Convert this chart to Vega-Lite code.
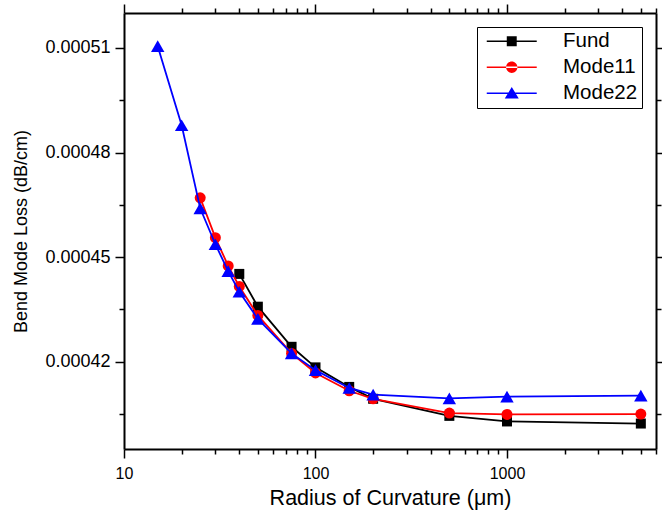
{
  "$schema": "https://vega.github.io/schema/vega-lite/v6.json",
  "width": 532,
  "height": 436,
  "autosize": {"type": "none"},
  "padding": {"left": 124, "top": 13, "right": 6, "bottom": 69},
  "background": "white",
  "config": {
    "view": {"stroke": null},
    "font": "Liberation Sans",
    "axis": {
      "grid": false,
      "domainColor": "black",
      "domainWidth": 2,
      "tickColor": "black",
      "tickWidth": 1.5,
      "labelColor": "black",
      "titleColor": "black",
      "labelFont": "Liberation Sans",
      "titleFont": "Liberation Sans",
      "titleFontWeight": "normal",
      "labelOverlap": false,
      "labelFlush": false
    },
    "legend": {
      "orient": "top-right",
      "offset": 14,
      "strokeColor": "black",
      "strokeWidth": 1,
      "fillColor": "white",
      "padding": 4,
      "symbolSize": 196,
      "symbolStrokeWidth": 0,
      "symbolOffset": 20.5,
      "labelOffset": 41,
      "labelAlign": "left",
      "labelFont": "Arial",
      "labelFontSize": 20.5,
      "labelColor": "black",
      "labelLimit": 200,
      "rowPadding": 5
    }
  },
  "data": {
    "values": [
      {"series": "Fund", "r": 40, "loss": 0.0004452},
      {"series": "Fund", "r": 50, "loss": 0.0004358},
      {"series": "Fund", "r": 75, "loss": 0.0004243},
      {"series": "Fund", "r": 100, "loss": 0.0004184},
      {"series": "Fund", "r": 150, "loss": 0.0004128},
      {"series": "Fund", "r": 200, "loss": 0.0004094},
      {"series": "Fund", "r": 500, "loss": 0.0004045},
      {"series": "Fund", "r": 1000, "loss": 0.0004029},
      {"series": "Fund", "r": 5000, "loss": 0.0004023},
      {"series": "Mode11", "r": 25, "loss": 0.000467},
      {"series": "Mode11", "r": 30, "loss": 0.0004556},
      {"series": "Mode11", "r": 35, "loss": 0.0004475},
      {"series": "Mode11", "r": 40, "loss": 0.0004416},
      {"series": "Mode11", "r": 50, "loss": 0.0004333},
      {"series": "Mode11", "r": 75, "loss": 0.0004224},
      {"series": "Mode11", "r": 100, "loss": 0.0004168},
      {"series": "Mode11", "r": 150, "loss": 0.0004117},
      {"series": "Mode11", "r": 200, "loss": 0.0004094},
      {"series": "Mode11", "r": 500, "loss": 0.0004053},
      {"series": "Mode11", "r": 1000, "loss": 0.0004049},
      {"series": "Mode11", "r": 5000, "loss": 0.000405},
      {"series": "Mode22", "r": 15, "loss": 0.0005105},
      {"series": "Mode22", "r": 20, "loss": 0.0004878},
      {"series": "Mode22", "r": 25, "loss": 0.000464},
      {"series": "Mode22", "r": 30, "loss": 0.0004537},
      {"series": "Mode22", "r": 35, "loss": 0.000446},
      {"series": "Mode22", "r": 40, "loss": 0.0004401},
      {"series": "Mode22", "r": 50, "loss": 0.0004323},
      {"series": "Mode22", "r": 75, "loss": 0.0004224},
      {"series": "Mode22", "r": 100, "loss": 0.0004176},
      {"series": "Mode22", "r": 150, "loss": 0.0004125},
      {"series": "Mode22", "r": 200, "loss": 0.0004106},
      {"series": "Mode22", "r": 500, "loss": 0.0004095},
      {"series": "Mode22", "r": 1000, "loss": 0.00041},
      {"series": "Mode22", "r": 5000, "loss": 0.0004103}
    ]
  },
  "encoding": {
    "x": {"field": "r", "type": "quantitative", "scale": {"type": "log", "domain": [10, 6000], "nice": false}, "axis": null},
    "y": {"field": "loss", "type": "quantitative", "scale": {"domain": [0.000395, 0.00052], "zero": false, "nice": false}, "axis": null}
  },
  "layer": [
    {
      "transform": [{"filter": "datum.series == 'Fund'"}],
      "mark": {"type": "line", "strokeWidth": 1.8, "color": "#000000"},
      "encoding": {
        "x": {"field": "r", "type": "quantitative", "scale": {"type": "log", "domain": [10, 6000], "nice": false},
          "axis": {"orient": "bottom", "values": [10, 20, 30, 40, 50, 60, 70, 80, 90, 100, 200, 300, 400, 500, 600, 700, 800, 900, 1000, 2000, 3000, 4000, 5000, 6000],
            "labelExpr": "indexof([10,100,1000], datum.value) >= 0 ? '' + datum.value : ''",
            "tickSize": {"condition": {"test": "indexof([10,100,1000], datum.value) >= 0", "value": 9}, "value": 5},
            "labelFontSize": 16, "labelPadding": 7,
            "title": "Radius of Curvature (μm)", "titleFontSize": 21.5, "titlePadding": 6}},
        "y": {"field": "loss", "type": "quantitative", "scale": {"domain": [0.000395, 0.00052], "zero": false, "nice": false},
          "axis": {"orient": "left", "values": [0.000405, 0.00042, 0.000435, 0.00045, 0.000465, 0.00048, 0.000495, 0.00051],
            "labelExpr": "round(datum.value*1e6) % 30 == 0 ? format(datum.value, '.5f') : ''",
            "tickSize": {"condition": {"test": "round(datum.value*1e6) % 30 == 0", "value": 9}, "value": 5},
            "labelFontSize": 18, "labelPadding": 5,
            "title": "Bend Mode Loss (dB/cm)", "titleFontSize": 18, "titlePadding": 14}}
      }
    },
    {
      "transform": [{"filter": "datum.series == 'Fund'"}],
      "mark": {"type": "point", "filled": true, "shape": "square", "size": 100, "opacity": 1, "color": "#000000"}
    },
    {
      "transform": [{"filter": "datum.series == 'Mode11'"}],
      "mark": {"type": "line", "strokeWidth": 1.8, "color": "#ff0000"}
    },
    {
      "transform": [{"filter": "datum.series == 'Mode11'"}],
      "mark": {"type": "point", "filled": true, "shape": "circle", "size": 121, "opacity": 1, "color": "#ff0000"}
    },
    {
      "transform": [{"filter": "datum.series == 'Mode22'"}],
      "mark": {"type": "line", "strokeWidth": 1.8, "color": "#0000ff"}
    },
    {
      "transform": [{"filter": "datum.series == 'Mode22'"}],
      "mark": {"type": "point", "filled": true, "shape": "triangle-up", "size": 180, "opacity": 1, "color": "#0000ff"}
    },
    {
      "mark": {"type": "point", "filled": true, "opacity": 0},
      "encoding": {
        "x": {"field": "r", "type": "quantitative", "scale": {"type": "log", "domain": [10, 6000], "nice": false},
          "axis": {"orient": "top", "values": [10, 20, 30, 40, 50, 60, 70, 80, 90, 100, 200, 300, 400, 500, 600, 700, 800, 900, 1000, 2000, 3000, 4000, 5000, 6000],
            "labels": false, "title": null,
            "tickSize": {"condition": {"test": "indexof([10,100,1000], datum.value) >= 0", "value": 9}, "value": 5}}},
        "y": {"field": "loss", "type": "quantitative", "scale": {"domain": [0.000395, 0.00052], "zero": false, "nice": false},
          "axis": {"orient": "right", "values": [0.000405, 0.00042, 0.000435, 0.00045, 0.000465, 0.00048, 0.000495, 0.00051],
            "labels": false, "title": null,
            "tickSize": {"condition": {"test": "round(datum.value*1e6) % 30 == 0", "value": 9}, "value": 5}}},
        "color": {"field": "series", "type": "nominal", "scale": {"domain": ["Fund", "Mode11", "Mode22"], "range": ["#000000", "#ff0000", "#0000ff"]}, "legend": {"title": null, "symbolOpacity": 1, "labelAlign": "left"}},
        "shape": {"field": "series", "type": "nominal", "scale": {"domain": ["Fund", "Mode11", "Mode22"], "range": [
          "M-3.57,-0.12H3.57V0.12H-3.57ZM-0.71,-0.71H0.71V0.71H-0.71Z",
          "M-3.57,-0.12H3.57V0.12H-3.57ZM-0.81,0A0.81,0.81,0,1,0,0.81,0A0.81,0.81,0,1,0,-0.81,0Z",
          "M-3.57,-0.12H3.57V0.12H-3.57ZM0,-0.88L1,0.76H-1Z"
        ]}, "legend": {"title": null, "symbolOpacity": 1, "labelAlign": "left"}}
      }
    }
  ],
  "resolve": {"axis": {"x": "independent", "y": "independent"}}
}
